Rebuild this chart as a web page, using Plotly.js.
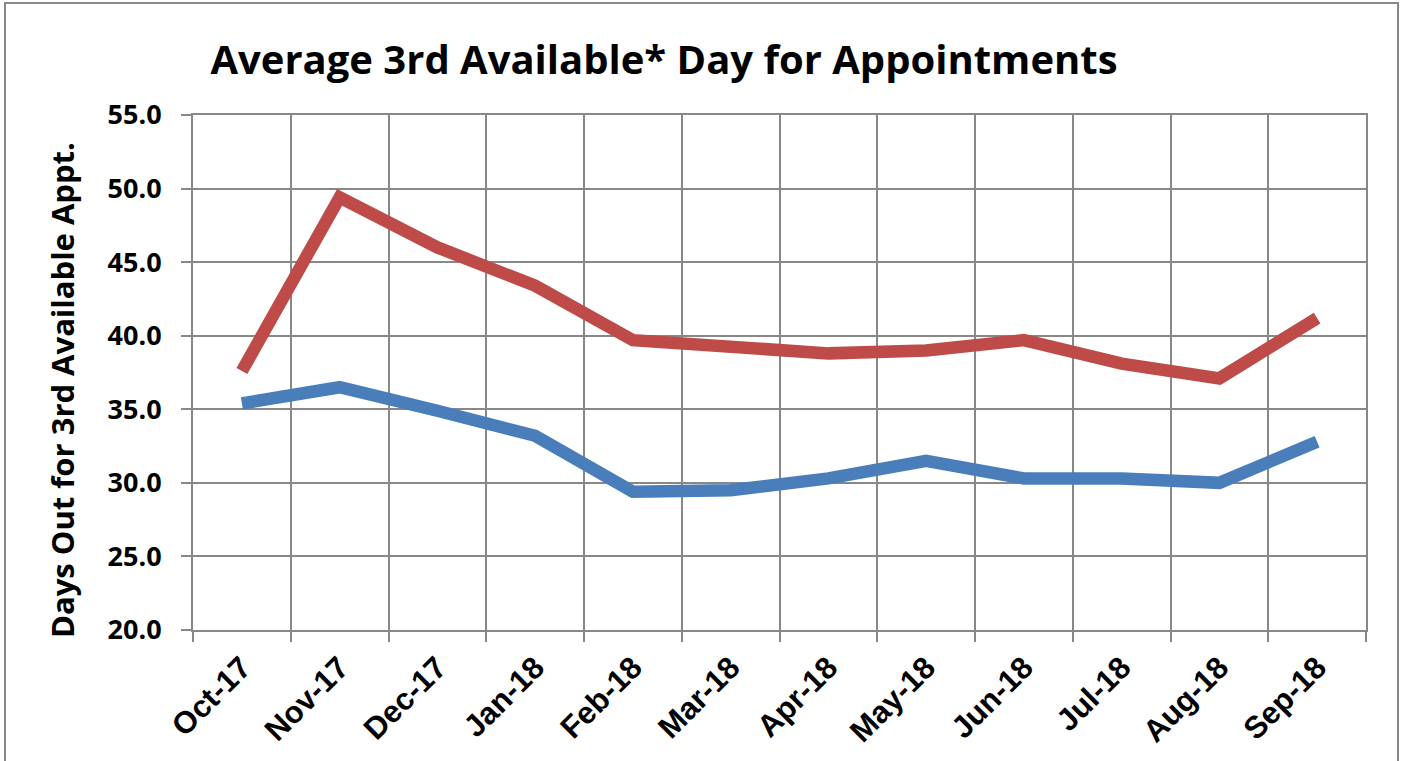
<!DOCTYPE html>
<html>
<head>
<meta charset="utf-8">
<script src="https://cdn.plot.ly/plotly-3.0.1.min.js"></script>
<style>html,body{margin:0;padding:0;background:#fff;}#chart{width:1403px;height:761px;}</style>
</head>
<body>
<div id="chart"></div>
<script>
var months = ['Oct-17','Nov-17','Dec-17','Jan-18','Feb-18','Mar-18','Apr-18','May-18','Jun-18','Jul-18','Aug-18','Sep-18'];
var seriesRed = [37.6, 49.4, 46.0, 43.4, 39.7, 39.2, 38.8, 39.0, 39.7, 38.1, 37.1, 41.2];
var seriesBlue = [35.4, 36.5, 34.9, 33.2, 29.4, 29.5, 30.3, 31.5, 30.3, 30.3, 30.0, 32.8];
var yTicks = [20, 25, 30, 35, 40, 45, 50, 55];

var W = 1403, H = 761;
var mL = 193, mR = 37, mT = 115, mB = 131;
var pw = W - mL - mR, ph = H - mT - mB;
function px(x){ return (x - mL) / pw; }
function py(y){ return (H - mB - y) / ph; }

var traces = [
  {x: months, y: seriesRed, type: 'scatter', mode: 'lines', name: 'Red',
   line: {color: '#BE4B48', width: 12.5}, hoverinfo: 'x+y'},
  {x: months, y: seriesBlue, type: 'scatter', mode: 'lines', name: 'Blue',
   line: {color: '#4A7EBB', width: 12.5}, hoverinfo: 'x+y'}
];

var layout = {
  width: W, height: H,
  margin: {l: mL, r: mR, t: mT, b: mB, pad: 0},
  paper_bgcolor: '#ffffff', plot_bgcolor: '#ffffff',
  showlegend: false,
  title: {text: 'Average 3rd Available* Day for Appointments',
          font: {family: 'Open Sans', size: 40, color: '#000', weight: 'bold'},
          xref: 'container', x: 664 / W, xanchor: 'center',
          yref: 'container', y: 1 - 60 / H, yanchor: 'middle'},
  xaxis: {
    type: 'category', range: [-0.5, 11.5],
    tickson: 'boundaries', ticks: 'outside', ticklen: 10, tickwidth: 2, tickcolor: '#888',
    showgrid: true, gridcolor: '#888', gridwidth: 2,
    showline: true, linecolor: '#888', linewidth: 2, mirror: true,
    tickangle: -45,
    tickfont: {family: 'Liberation Sans', size: 31, color: '#000', weight: 'bold'},
    ticklabelstandoff: 5,
    zeroline: false, fixedrange: true
  },
  yaxis: {
    range: [20, 55], tickvals: yTicks, tickformat: '.1f',
    ticks: 'outside', ticklen: 10, tickwidth: 2, tickcolor: '#888',
    showgrid: true, gridcolor: '#888', gridwidth: 2,
    showline: true, linecolor: '#888', linewidth: 2, mirror: true,
    tickfont: {family: 'Open Sans', size: 27, color: '#000', weight: 'bold'},
    ticklabelstandoff: 14,
    zeroline: false, fixedrange: true
  },
  annotations: [{
    text: 'Days Out for 3rd Available Appt.', textangle: -90,
    xref: 'paper', yref: 'paper', x: px(62), y: py(390),
    xanchor: 'center', yanchor: 'middle', showarrow: false,
    font: {family: 'Open Sans', size: 31, color: '#000', weight: 'bold'}
  }],
  shapes: [{
    type: 'rect', xref: 'paper', yref: 'paper',
    x0: px(5), x1: px(1398), y0: py(775), y1: py(3),
    line: {color: '#888', width: 2}, fillcolor: 'rgba(0,0,0,0)', layer: 'below'
  }]
};

Plotly.newPlot('chart', traces, layout, {displayModeBar: false, staticPlot: true});
</script>
</body>
</html>
